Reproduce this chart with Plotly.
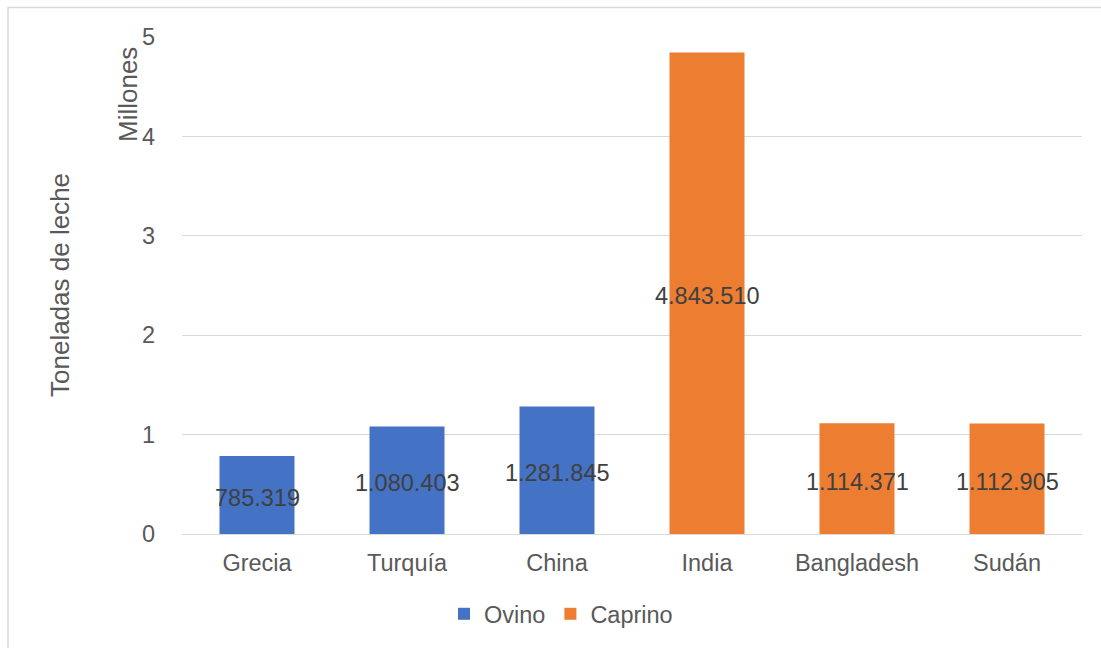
import plotly.graph_objects as go

categories = ["Grecia", "Turquía", "China", "India", "Bangladesh", "Sudán"]
ovino = [785319, 1080403, 1281845, None, None, None]
caprino = [None, None, None, 4843510, 1114371, 1112905]
y_ticks = [0, 1, 2, 3, 4, 5]

FONT = "Liberation Sans, Arial, sans-serif"
TICK_COLOR = "#595959"
LABEL_COLOR = "#404040"
FS = 23.5

W, H = 1101, 648
ML, MR, MT, MB = 182, 19, 37, 114
PW, PH = W - ML - MR, H - MT - MB


def px_x(p):
    return (p - ML) / PW


def px_y(p):
    return (H - MB - p) / PH


def fmt(v):
    return f"{v:,}".replace(",", ".")


fig = go.Figure()
for name, vals, color in [("Ovino", ovino, "#4472C4"), ("Caprino", caprino, "#ED7D31")]:
    fig.add_trace(go.Bar(
        x=categories,
        y=[v / 1e6 if v is not None else None for v in vals],
        name=name,
        marker=dict(color=color, line=dict(width=0)),
    ))

all_vals = [o if o is not None else c for o, c in zip(ovino, caprino)]
label_annotations = [
    dict(x=c, y=v / 1e6 / 2, xref="x", yref="y", text=fmt(v), showarrow=False,
         xanchor="center", yanchor="middle", yshift=-3,
         font=dict(family=FONT, size=FS, color=LABEL_COLOR))
    for c, v in zip(categories, all_vals)
]

fig.update_layout(
    width=W, height=H,
    margin=dict(l=ML, r=MR, t=MT, b=MB),
    paper_bgcolor="white",
    plot_bgcolor="white",
    barmode="overlay",
    bargap=0.5,
    font=dict(family=FONT, size=FS, color=TICK_COLOR),
    showlegend=True,
    legend=dict(
        orientation="h",
        x=px_x(561), y=px_y(614),
        xanchor="center", yanchor="middle",
        font=dict(family=FONT, size=FS, color=TICK_COLOR),
        itemwidth=30,
        traceorder="normal",
    ),
    xaxis=dict(
        showgrid=False,
        showline=False,
        zeroline=False,
        ticks="",
        tickfont=dict(family=FONT, size=FS, color=TICK_COLOR),
        ticklabelstandoff=12,
    ),
    yaxis=dict(
        range=[0, 5],
        tickvals=y_ticks,
        ticktext=[str(t) for t in y_ticks],
        showgrid=True,
        gridcolor="#D9D9D9",
        gridwidth=1,
        zeroline=True,
        zerolinecolor="#D9D9D9",
        zerolinewidth=1,
        showline=False,
        ticks="",
        tickfont=dict(family=FONT, size=FS, color=TICK_COLOR),
        ticklabelstandoff=26,
    ),
    annotations=label_annotations + [
        dict(text="Toneladas de leche", x=px_x(60), y=px_y(285), xref="paper", yref="paper",
             showarrow=False, textangle=-90, xanchor="center", yanchor="middle",
             font=dict(family=FONT, size=26, color=TICK_COLOR)),
        dict(text="Millones", x=px_x(128), y=px_y(95), xref="paper", yref="paper",
             showarrow=False, textangle=-90, xanchor="center", yanchor="middle",
             font=dict(family=FONT, size=26, color=TICK_COLOR)),
    ],
    shapes=[
        dict(type="rect", xref="paper", yref="paper",
             x0=px_x(8), x1=px_x(1130), y0=px_y(7.5), y1=px_y(680),
             line=dict(color="#D9D9D9", width=1.5), fillcolor="rgba(0,0,0,0)", layer="below"),
    ],
)

fig.write_html("out.html")
